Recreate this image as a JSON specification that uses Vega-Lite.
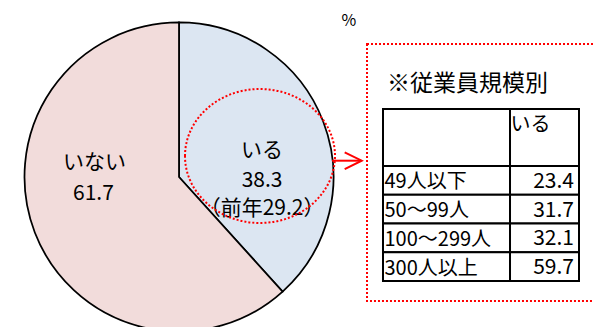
{
  "$schema": "https://vega.github.io/schema/vega-lite/v6.json",
  "padding": 0,
  "background": "white",
  "spacing": 0,
  "config": {
    "view": {"stroke": null},
    "font": "Noto Sans CJK JP",
    "text": {"font": "Noto Sans CJK JP", "color": "#000"},
    "locale": {"number": {"decimal": ".", "thousands": ",", "grouping": [3], "currency": ["（前年", "）"]}}
  },
  "hconcat": [
    {
      "width": 358,
      "height": 327,
      "data": {"values": [
        {"category": "いる", "value": 38.3, "prev": 29.2},
        {"category": "いない", "value": 61.7}
      ]},
      "layer": [
        {
          "mark": {"type": "arc", "outerRadius": 154.5, "stroke": "#000", "strokeWidth": 1.75, "clip": true},
          "encoding": {
            "x": {"datum": 0, "type": "quantitative", "scale": {"domain": [-1.1586, 1.1586], "nice": false, "zero": false}, "axis": null},
            "y": {"datum": 0, "type": "quantitative", "scale": {"domain": [-0.9709, 1.1456], "nice": false, "zero": false}, "axis": null},
            "theta": {"field": "value", "type": "quantitative", "stack": true},
            "color": {"field": "category", "type": "nominal", "scale": {"domain": ["いる", "いない"], "range": ["#DCE6F2", "#F2DCDB"]}, "legend": null},
            "order": {"field": "category", "sort": "descending"}
          }
        },
        {
          "mark": {"type": "text", "radius": 89, "dy": 5.5, "fontSize": 21, "baseline": "middle", "align": "center"},
          "encoding": {
            "x": {"datum": 0, "type": "quantitative", "scale": {"domain": [-1.1586, 1.1586], "nice": false, "zero": false}, "axis": null},
            "y": {"datum": 0, "type": "quantitative", "scale": {"domain": [-0.9709, 1.1456], "nice": false, "zero": false}, "axis": null},
            "theta": {"field": "value", "type": "quantitative", "stack": true},
            "order": {"field": "category", "sort": "descending"},
            "detail": {"field": "category", "type": "nominal"},
            "text": {"condition": {"test": "datum.category === 'いる'", "field": "category", "type": "nominal"}, "value": ""}
          }
        },
        {
          "mark": {"type": "text", "radius": 89, "dy": 35.5, "fontSize": 21, "baseline": "middle", "align": "center"},
          "encoding": {
            "x": {"datum": 0, "type": "quantitative", "scale": {"domain": [-1.1586, 1.1586], "nice": false, "zero": false}, "axis": null},
            "y": {"datum": 0, "type": "quantitative", "scale": {"domain": [-0.9709, 1.1456], "nice": false, "zero": false}, "axis": null},
            "theta": {"field": "value", "type": "quantitative", "stack": true},
            "order": {"field": "category", "sort": "descending"},
            "detail": {"field": "category", "type": "nominal"},
            "text": {"condition": {"test": "datum.category === 'いる'", "field": "value", "type": "quantitative", "format": ".1f"}, "value": ""}
          }
        },
        {
          "mark": {"type": "text", "radius": 89, "dy": 63.5, "fontSize": 21, "baseline": "middle", "align": "center"},
          "encoding": {
            "x": {"datum": 0, "type": "quantitative", "scale": {"domain": [-1.1586, 1.1586], "nice": false, "zero": false}, "axis": null},
            "y": {"datum": 0, "type": "quantitative", "scale": {"domain": [-0.9709, 1.1456], "nice": false, "zero": false}, "axis": null},
            "theta": {"field": "value", "type": "quantitative", "stack": true},
            "order": {"field": "category", "sort": "descending"},
            "detail": {"field": "category", "type": "nominal"},
            "text": {"condition": {"test": "datum.category === 'いる'", "field": "prev", "type": "quantitative", "format": "$.1f"}, "value": ""}
          }
        },
        {
          "mark": {"type": "text", "radius": 89, "dx": -1.5, "dy": -45.5, "fontSize": 21, "baseline": "middle", "align": "center"},
          "encoding": {
            "x": {"datum": 0, "type": "quantitative", "scale": {"domain": [-1.1586, 1.1586], "nice": false, "zero": false}, "axis": null},
            "y": {"datum": 0, "type": "quantitative", "scale": {"domain": [-0.9709, 1.1456], "nice": false, "zero": false}, "axis": null},
            "theta": {"field": "value", "type": "quantitative", "stack": true},
            "order": {"field": "category", "sort": "descending"},
            "detail": {"field": "category", "type": "nominal"},
            "text": {"condition": {"test": "datum.category === 'いない'", "field": "category", "type": "nominal"}, "value": ""}
          }
        },
        {
          "mark": {"type": "text", "radius": 89, "dx": -2.5, "dy": -15, "fontSize": 21, "baseline": "middle", "align": "center"},
          "encoding": {
            "x": {"datum": 0, "type": "quantitative", "scale": {"domain": [-1.1586, 1.1586], "nice": false, "zero": false}, "axis": null},
            "y": {"datum": 0, "type": "quantitative", "scale": {"domain": [-0.9709, 1.1456], "nice": false, "zero": false}, "axis": null},
            "theta": {"field": "value", "type": "quantitative", "stack": true},
            "order": {"field": "category", "sort": "descending"},
            "detail": {"field": "category", "type": "nominal"},
            "text": {"condition": {"test": "datum.category === 'いない'", "field": "value", "type": "quantitative", "format": ".1f"}, "value": ""}
          }
        },
        {
          "data": {"values": [{}]},
          "mark": {"type": "point", "shape": "M-1,0A1,0.893,0,1,1,1,0A1,0.893,0,1,1,-1,0Z", "size": 22500, "filled": false, "stroke": "#FF0000", "strokeWidth": 2, "strokeDash": [2, 2], "opacity": 1},
          "encoding": {
            "x": {"datum": 0.5243, "type": "quantitative", "scale": {"domain": [-1.1586, 1.1586], "nice": false, "zero": false}, "axis": null},
            "y": {"datum": 0.1359, "type": "quantitative", "scale": {"domain": [-0.9709, 1.1456], "nice": false, "zero": false}, "axis": null}
          }
        },
        {
          "data": {"values": [{}]},
          "mark": {"type": "rule", "stroke": "#FF0000", "strokeWidth": 2},
          "encoding": {
            "x": {"datum": 0.9903, "type": "quantitative", "scale": {"domain": [-1.1586, 1.1586], "nice": false, "zero": false}, "axis": null},
            "x2": {"datum": 1.18},
            "y": {"datum": 0.1055, "type": "quantitative", "scale": {"domain": [-0.9709, 1.1456], "nice": false, "zero": false}, "axis": null}
          }
        },
        {
          "data": {"values": [{}]},
          "mark": {"type": "point", "shape": "M-1,-0.49L0,0L-1,0.49", "size": 1156, "filled": false, "stroke": "#FF0000", "strokeWidth": 2, "opacity": 1},
          "encoding": {
            "x": {"datum": 1.1825, "type": "quantitative", "scale": {"domain": [-1.1586, 1.1586], "nice": false, "zero": false}, "axis": null},
            "y": {"datum": 0.1055, "type": "quantitative", "scale": {"domain": [-0.9709, 1.1456], "nice": false, "zero": false}, "axis": null}
          }
        },
        {
          "data": {"values": [{}]},
          "mark": {"type": "text", "fontSize": 16, "baseline": "middle", "align": "center"},
          "encoding": {
            "x": {"datum": 1.1003, "type": "quantitative", "scale": {"domain": [-1.1586, 1.1586], "nice": false, "zero": false}, "axis": null},
            "y": {"datum": 1.0097, "type": "quantitative", "scale": {"domain": [-0.9709, 1.1456], "nice": false, "zero": false}, "axis": null},
            "text": {"value": "%"}
          }
        }
      ]
    },
    {
      "width": 230,
      "height": 301,
      "data": {"values": [
        {"size": "49人以下", "value": 23.4},
        {"size": "50～99人", "value": 31.7},
        {"size": "100～299人", "value": 32.1},
        {"size": "300人以上", "value": 59.7}
      ]},
      "layer": [
        {
          "data": {"values": [{}]},
          "mark": {"type": "rect", "fill": null, "stroke": "#FF0000", "strokeWidth": 2, "strokeDash": [2, 2], "yOffset": -122, "y2Offset": 20},
          "encoding": {
            "y": {"datum": "49人以下", "type": "nominal", "bandPosition": 0, "scale": {"domain": ["49人以下", "50～99人", "100～299人", "300人以上"], "range": [166, 281], "paddingInner": 0, "paddingOuter": 0}, "axis": null},
            "y2": {"datum": "300人以上", "bandPosition": 1},
            "x": {"datum": -0.0816, "type": "quantitative", "scale": {"domain": [0, 1], "range": [16, 212], "nice": false, "zero": false}, "axis": null},
            "x2": {"datum": 1.0918}
          }
        },
        {
          "mark": {"type": "rect", "fill": "#fff", "stroke": "#000", "strokeWidth": 2},
          "encoding": {
            "y": {"field": "size", "type": "nominal", "sort": null, "scale": {"domain": ["49人以下", "50～99人", "100～299人", "300人以上"], "range": [166, 281], "paddingInner": 0, "paddingOuter": 0}, "axis": null},
            "x": {"datum": 0, "type": "quantitative", "scale": {"domain": [0, 1], "range": [16, 212], "nice": false, "zero": false}, "axis": null},
            "x2": {"datum": 0.648}
          }
        },
        {
          "mark": {"type": "rect", "fill": "#fff", "stroke": "#000", "strokeWidth": 2},
          "encoding": {
            "y": {"field": "size", "type": "nominal", "sort": null, "scale": {"domain": ["49人以下", "50～99人", "100～299人", "300人以上"], "range": [166, 281], "paddingInner": 0, "paddingOuter": 0}, "axis": null},
            "x": {"datum": 0.648, "type": "quantitative", "scale": {"domain": [0, 1], "range": [16, 212], "nice": false, "zero": false}, "axis": null},
            "x2": {"datum": 1}
          }
        },
        {
          "data": {"values": [{}]},
          "mark": {"type": "rect", "fill": "#fff", "stroke": "#000", "strokeWidth": 2, "yOffset": -57},
          "encoding": {
            "y": {"datum": "49人以下", "type": "nominal", "bandPosition": 0, "scale": {"domain": ["49人以下", "50～99人", "100～299人", "300人以上"], "range": [166, 281], "paddingInner": 0, "paddingOuter": 0}, "axis": null},
            "y2": {"datum": "49人以下", "bandPosition": 0},
            "x": {"datum": 0, "type": "quantitative", "scale": {"domain": [0, 1], "range": [16, 212], "nice": false, "zero": false}, "axis": null},
            "x2": {"datum": 0.648}
          }
        },
        {
          "data": {"values": [{}]},
          "mark": {"type": "rect", "fill": "#fff", "stroke": "#000", "strokeWidth": 2, "yOffset": -57},
          "encoding": {
            "y": {"datum": "49人以下", "type": "nominal", "bandPosition": 0, "scale": {"domain": ["49人以下", "50～99人", "100～299人", "300人以上"], "range": [166, 281], "paddingInner": 0, "paddingOuter": 0}, "axis": null},
            "y2": {"datum": "49人以下", "bandPosition": 0},
            "x": {"datum": 0.648, "type": "quantitative", "scale": {"domain": [0, 1], "range": [16, 212], "nice": false, "zero": false}, "axis": null},
            "x2": {"datum": 1}
          }
        },
        {
          "data": {"values": [{}]},
          "mark": {"type": "text", "align": "left", "baseline": "middle", "fontSize": 23, "dx": 4, "dy": -82.5},
          "encoding": {
            "y": {"datum": "49人以下", "type": "nominal", "bandPosition": 0, "scale": {"domain": ["49人以下", "50～99人", "100～299人", "300人以上"], "range": [166, 281], "paddingInner": 0, "paddingOuter": 0}, "axis": null},
            "x": {"datum": 0, "type": "quantitative", "scale": {"domain": [0, 1], "range": [16, 212], "nice": false, "zero": false}, "axis": null},
            "text": {"value": "※従業員規模別"}
          }
        },
        {
          "data": {"values": [{}]},
          "mark": {"type": "text", "align": "left", "baseline": "middle", "fontSize": 20, "dx": 0.5, "dy": -41},
          "encoding": {
            "y": {"datum": "49人以下", "type": "nominal", "bandPosition": 0, "scale": {"domain": ["49人以下", "50～99人", "100～299人", "300人以上"], "range": [166, 281], "paddingInner": 0, "paddingOuter": 0}, "axis": null},
            "x": {"datum": 0.648, "type": "quantitative", "scale": {"domain": [0, 1], "range": [16, 212], "nice": false, "zero": false}, "axis": null},
            "text": {"value": "いる"}
          }
        },
        {
          "mark": {"type": "text", "align": "left", "baseline": "middle", "fontSize": 20, "dx": 1.5, "dy": 2},
          "encoding": {
            "y": {"field": "size", "type": "nominal", "sort": null, "scale": {"domain": ["49人以下", "50～99人", "100～299人", "300人以上"], "range": [166, 281], "paddingInner": 0, "paddingOuter": 0}, "axis": null},
            "x": {"datum": 0, "type": "quantitative", "scale": {"domain": [0, 1], "range": [16, 212], "nice": false, "zero": false}, "axis": null},
            "text": {"field": "size", "type": "nominal"}
          }
        },
        {
          "mark": {"type": "text", "align": "right", "baseline": "middle", "fontSize": 21, "dx": -5, "dy": 1.6},
          "encoding": {
            "y": {"field": "size", "type": "nominal", "sort": null, "scale": {"domain": ["49人以下", "50～99人", "100～299人", "300人以上"], "range": [166, 281], "paddingInner": 0, "paddingOuter": 0}, "axis": null},
            "x": {"datum": 1, "type": "quantitative", "scale": {"domain": [0, 1], "range": [16, 212], "nice": false, "zero": false}, "axis": null},
            "text": {"field": "value", "type": "quantitative", "format": ".1f"}
          }
        }
      ]
    }
  ]
}
